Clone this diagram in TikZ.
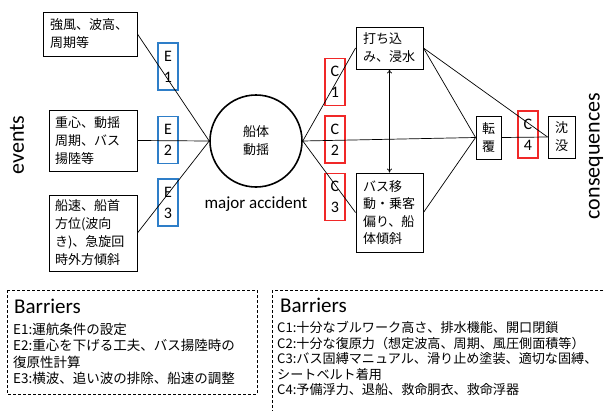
\documentclass[tikz,border=0pt]{standalone}
\usepackage{fontspec}
\setmainfont{Carlito}
\newfontfamily\jp{Noto Sans CJK JP}
\usetikzlibrary{arrows.meta}
\definecolor{eblue}{RGB}{46,126,200}
\definecolor{cred}{RGB}{240,40,40}
\begin{document}
\begin{tikzpicture}[x=1pt,y=-1pt,
 box/.style={draw, line width=0.9pt, inner xsep=6pt, inner ysep=0pt, font=\jp\fontsize{13}{18}\selectfont, align=left},
 bar/.style={draw, line width=1.1pt, minimum width=20pt, minimum height=47pt, inner sep=0pt, font=\fontsize{16}{21}\selectfont, align=center},
 ebar/.style={bar, draw=eblue},
 cbar/.style={bar, draw=cred},
 conn/.style={line width=0.7pt},
 dashbox/.style={draw, line width=0.6pt, dash pattern=on 3pt off 2pt},
 side/.style={font=\fontsize{22}{24}\selectfont, rotate=90, inner sep=0pt},
 btitle/.style={font=\fontsize{21}{24}\selectfont, anchor=west, inner sep=0pt},
 bline/.style={font=\jp\fontsize{13.5}{16}\selectfont, anchor=west, inner sep=0pt},
 rline/.style={bline, font=\jp\fontsize{13.1}{16}\selectfont},
]
\useasboundingbox (0,0) rectangle (604,410);
\clip (0,0) rectangle (604,410);

% left events
\node[box, inner xsep=7pt, text width=80pt, minimum height=44pt] (w1) at (90,34) {強風、波高、\\周期等};
\node[box, text width=76pt, minimum height=61pt] (w2) at (93,140.5) {重心、動揺\\周期、バス\\揚陸等};
\node[box, text width=76pt, minimum height=76pt] (w3) at (93,233) {船速、船首\\方位(波向\\き)、急旋回\\時外方傾斜};

\node[ebar] (e1) at (168,66.5) {E\\1};
\node[ebar] (e2) at (168,140) {E\\2};
\node[ebar] (e3) at (168,202.5) {E\\3};

\node[draw, circle, line width=1.6pt, minimum size=92pt, inner sep=0pt, align=center, font=\jp\fontsize{13}{18}\selectfont] (acc) at (256,141) {船体\\動揺};
\node[font=\fontsize{17}{20}\selectfont, inner sep=0pt] (ma) at (256,204) {major accident};

\draw[conn] (w1.east) -- (acc.west);
\draw[conn] (w2.east) -- (acc.west);
\draw[conn] (w3.east) -- (acc.west);

% right consequences
\node[box, inner xsep=7pt, text width=53pt, minimum height=42pt] (f1) at (389.5,48) {打ち込\\み、浸水};
\node[box, inner xsep=7pt, text width=53pt, minimum height=79pt, font=\jp\fontsize{13}{17.5}\selectfont] (f2) at (389.5,212.5) {バス移\\動・乗客\\偏り、船\\体傾斜};
\node[box, inner xsep=0pt, align=center, minimum width=25pt, minimum height=43pt] (cap) at (488.5,137.5) {転\\覆};
\node[box, inner xsep=0pt, align=center, minimum width=27pt, minimum height=42pt] (sink) at (561.5,137) {沈\\没};

\node[cbar] (c1) at (335,82) {C\\1};
\node[cbar] (c2) at (335,139.5) {C\\2};
\node[cbar] (c3) at (335,197) {C\\3};
\node[cbar] (c4) at (528,134.5) {C\\4};

\draw[conn] (acc.east) -- (f1.west);
\draw[conn] (acc.east) -- (f2.west);
\draw[conn] (acc.east) -- (cap.west);
\draw[conn] (f1.east) -- (cap.west);
\draw[conn] (f1.east) -- (sink.west);
\draw[conn] (f2.east) -- (cap.west);
\draw[conn] (cap.east) -- (sink.west);
\draw[conn, {To[length=4pt,width=5pt]}-{To[length=4pt,width=5pt]}] (f1.south) -- (f2.north);

\node[side] (ev) at (17,145) {events};
\node[side] (cq) at (596,156) {consequences};

% barriers
\draw[dashbox] (7,290) rectangle (257,394);
\draw[dashbox] (272,290) rectangle (640,440);

\node[btitle] (lb0) at (14,306) {Barriers};
\node[bline] (lb1) at (13,329) {E1:運航条件の設定};
\node[bline] (lb2) at (13,345.5) {E2:重心を下げる工夫、バス揚陸時の};
\node[bline] (lb3) at (13,362) {復原性計算};
\node[bline] (lb4) at (13,378) {E3:横波、追い波の排除、船速の調整};

\node[btitle] (rb0) at (280,305) {Barriers};
\node[rline] (rb1) at (277,327.5) {C1:十分なブルワーク高さ、排水機能、開口閉鎖};
\node[rline] (rb2) at (277,343.5) {C2:十分な復原力（想定波高、周期、風圧側面積等）};
\node[rline] (rb3) at (277,359) {C3:バス固縛マニュアル、滑り止め塗装、適切な固縛、};
\node[rline] (rb4) at (277,374.5) {シートベルト着用};
\node[rline] (rb5) at (277,390) {C4:予備浮力、退船、救命胴衣、救命浮器};
\end{tikzpicture}
\end{document}
